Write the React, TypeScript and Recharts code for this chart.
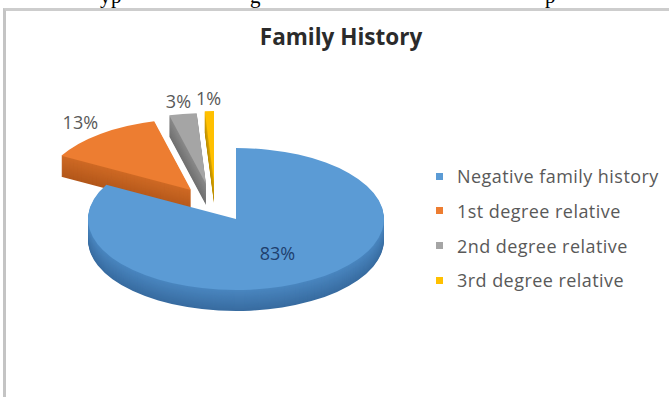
import React from 'react';
import { PieChart, Pie, Cell } from 'recharts';

const TITLE = 'Family History';
const CATEGORIES = ['Negative family history', '1st degree relative', '2nd degree relative', '3rd degree relative'];
const VALUES = [83, 13, 3, 1];
const LABELS = ['83%', '13%', '3%', '1%'];

const COLORS = ['#5b9bd5', '#ed7d31', '#a5a5a5', '#ffc000'];
const WALL_TOP = ['#4a86c0', '#cf6a25', '#8a8a8a', '#dba600'];
const WALL_BOTTOM = ['#386ca0', '#b3571a', '#707070', '#b88b00'];
const LABEL_COLORS = ['#1f3f6e', '#595959', '#595959', '#595959'];

// geometry (screen px)
const W = 669;
const H = 397;
const CX = 236;
const CY = 219;
const R = 148;
const RY = 71;
const S = RY / R; // vertical squash of the tilted pie
const THICK = 21;
// per-slice explosion (screen px), like Excel's per-point explosion
const EXPLODE = [
  [0, 0],
  [-45, -29],
  [-30, -35],
  [-22, -37],
];
const LABEL_RADIUS = [0.55, 1.22, 1.19, 1.19];
const DRAW_ORDER = [1, 2, 3, 0];

const data = CATEGORIES.map((name, i) => ({ name, value: VALUES[i], label: LABELS[i] }));

const RAD = Math.PI / 180;
const FONT = "'Open Sans', 'Noto Sans', sans-serif";

function mix(a: string, b: string, t: number) {
  const pa = [1, 3, 5].map((k) => parseInt(a.slice(k, k + 2), 16));
  const pb = [1, 3, 5].map((k) => parseInt(b.slice(k, k + 2), 16));
  const c = pa.map((v, k) => Math.round(v + (pb[k] - v) * t));
  return '#' + c.map((v) => v.toString(16).padStart(2, '0')).join('');
}

function makeLabel(slice: number) {
  return (p: any) => {
    if (p.index !== slice) return null;
    const r = LABEL_RADIUS[slice] * p.outerRadius;
    const x = p.cx + r * Math.cos(-p.midAngle * RAD);
    const y = p.cy + r * Math.sin(-p.midAngle * RAD);
    return (
      <text
        key={`lbl-${slice}`}
        x={x}
        y={y}
        transform={`translate(${x} ${y}) scale(1 ${1 / S}) translate(${-x} ${-y})`}
        textAnchor="middle"
        dominantBaseline="central"
        fontFamily={FONT}
        fontSize={18}
        fill={LABEL_COLORS[slice]}
      >
        {p.payload.label}
      </text>
    );
  };
}

function renderPies() {
  const out: React.ReactNode[] = [];
  DRAW_ORDER.forEach((slice) => {
    const [dx, dy] = EXPLODE[slice];
    const cx = CX + dx;
    const cyTop = (CY + dy) / S;
    for (let k = THICK; k >= 0; k--) {
      const isTop = k === 0;
      const fill = isTop ? COLORS[slice] : mix(WALL_TOP[slice], WALL_BOTTOM[slice], k / THICK);
      out.push(
        <Pie
          key={`p-${slice}-${k}`}
          data={data}
          dataKey="value"
          nameKey="name"
          cx={cx}
          cy={cyTop + k / S}
          innerRadius={0}
          outerRadius={R}
          startAngle={90}
          endAngle={-270}
          stroke="none"
          isAnimationActive={false}
          legendType="none"
          labelLine={false}
          label={isTop ? makeLabel(slice) : false}
        >
          {data.map((d, i) => (
            <Cell key={d.name} fill={i === slice ? fill : 'none'} stroke="none" />
          ))}
        </Pie>
      );
    }
  });
  return out;
}

export default function App() {
  return (
    <div
      style={{
        position: 'fixed',
        left: 0,
        top: 0,
        width: W,
        height: H,
        overflow: 'hidden',
        background: '#ffffff',
      }}
    >
      {/* chart frame */}
      <div
        style={{
          position: 'absolute',
          left: 3,
          top: 8,
          width: 720,
          height: 420,
          borderLeft: '3px solid #c4c4c4',
          borderTop: '3px solid #cdcdcd',
          boxSizing: 'border-box',
        }}
      />
      {/* descenders of the document line above the figure */}
      <div
        style={{
          position: 'absolute',
          left: 0,
          top: -16,
          width: W,
          height: 24,
          lineHeight: '24px',
          fontFamily: "'Liberation Serif', serif",
          fontSize: 21,
          color: '#000',
          whiteSpace: 'nowrap',
        }}
      >
        <span style={{ position: 'absolute', top: 0, left: 100 }}>y</span>
        <span style={{ position: 'absolute', top: 0, left: 111 }}>p</span>
        <span style={{ position: 'absolute', top: 0, left: 250 }}>g</span>
        <span style={{ position: 'absolute', top: 0, left: 545 }}>p</span>
      </div>
      {/* pie, drawn flat and tilted */}
      <div
        style={{
          position: 'absolute',
          left: 0,
          top: 0,
          width: W,
          height: H / S,
          transform: `scaleY(${S})`,
          transformOrigin: '0 0',
        }}
      >
        <PieChart width={W} height={Math.ceil(H / S)} margin={{ top: 0, right: 0, bottom: 0, left: 0 }}>
          {renderPies()}
        </PieChart>
      </div>
      {/* title */}
      <div
        style={{
          position: 'absolute',
          left: 0,
          top: 22,
          width: 682,
          textAlign: 'center',
          fontFamily: FONT,
          fontWeight: 700,
          fontSize: 22.5,
          color: '#2b2b2b',
          lineHeight: '30px',
        }}
      >
        {TITLE}
      </div>
      {/* legend */}
      {CATEGORIES.map((name, i) => (
        <div
          key={name}
          style={{
            position: 'absolute',
            left: 436,
            top: 176 + i * 34.8 - 12,
            height: 24,
            display: 'flex',
            alignItems: 'center',
            fontFamily: FONT,
            fontSize: 18,
            letterSpacing: 0.45,
            color: '#595959',
            whiteSpace: 'nowrap',
          }}
        >
          <span style={{ display: 'inline-block', width: 7, height: 7, background: COLORS[i], marginRight: 14 }} />
          {name}
        </div>
      ))}
    </div>
  );
}
